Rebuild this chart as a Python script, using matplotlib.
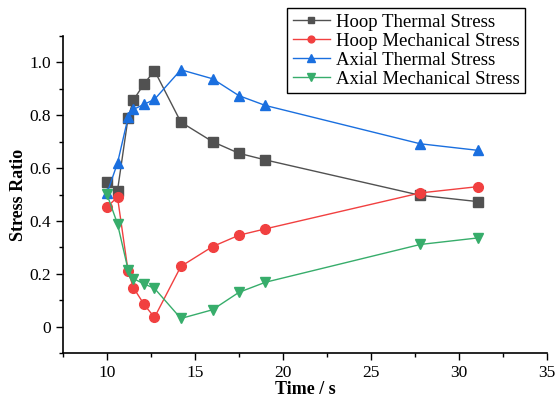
import matplotlib
matplotlib.use("Agg")
import matplotlib.pyplot as plt
from matplotlib.ticker import MultipleLocator, FuncFormatter

plt.rcParams['font.family'] = ['Liberation Serif', 'DejaVu Serif']

time_s = [10.0, 10.6, 11.2, 11.5, 12.1, 12.7, 14.2, 16.0, 17.5, 19.0, 27.8, 31.1]
hoop_thermal = [0.549, 0.515, 0.79, 0.857, 0.918, 0.969, 0.774, 0.700, 0.656, 0.631, 0.497, 0.473]
hoop_mech = [0.453, 0.490, 0.21, 0.148, 0.085, 0.035, 0.228, 0.303, 0.346, 0.370, 0.506, 0.530]
axial_thermal = [0.504, 0.619, 0.792, 0.822, 0.841, 0.860, 0.972, 0.938, 0.874, 0.837, 0.692, 0.667]
axial_mech = [0.501, 0.389, 0.216, 0.182, 0.162, 0.145, 0.031, 0.064, 0.130, 0.168, 0.311, 0.336]
labels = ["Hoop Thermal Stress", "Hoop Mechanical Stress", "Axial Thermal Stress", "Axial Mechanical Stress"]

fig = plt.figure(figsize=(5.57, 4.04), dpi=100)
ax = fig.add_axes([0.113, 0.126, 0.869, 0.785])

specs = [
    (hoop_thermal, '#515151', 's', 6.5),
    (hoop_mech, '#F14040', 'o', 7),
    (axial_thermal, '#1A6FDF', '^', 7.5),
    (axial_mech, '#37AD6B', 'v', 7.5),
]
for (vals, c, m, ms), lab in zip(specs, labels):
    ax.plot(time_s, vals, color=c, marker=m, markersize=ms, linewidth=1.0, label=lab)

ax.set_xlim(7.5, 35)
ax.set_ylim(-0.1, 1.1)
ax.xaxis.set_major_locator(MultipleLocator(5))
ax.xaxis.set_minor_locator(MultipleLocator(2.5))
ax.yaxis.set_major_locator(MultipleLocator(0.2))
ax.yaxis.set_minor_locator(MultipleLocator(0.1))
ax.yaxis.set_major_formatter(FuncFormatter(lambda v, p: '0' if abs(v) < 1e-9 else f'{v:.1f}'))

for s in ['top', 'right']:
    ax.spines[s].set_visible(False)
for s in ['left', 'bottom']:
    ax.spines[s].set_linewidth(1.2)
ax.tick_params(which='major', direction='out', length=5, width=1.0, labelsize=12.5)
ax.tick_params(which='minor', direction='out', length=3, width=1.0)

ax.set_xlabel('Time / s', fontsize=13, fontweight='bold', labelpad=0)
ax.set_ylabel('Stress Ratio', fontsize=13, fontweight='bold', labelpad=2)

leg = ax.legend(loc='upper left', bbox_to_anchor=(287/557, 1 - 8/404), bbox_transform=fig.transFigure,
                fontsize=13.5, frameon=True, fancybox=False, edgecolor='black', framealpha=1,
                handlelength=2.0, handletextpad=0.3, borderpad=0.3, labelspacing=0.1,
                markerscale=0.7, borderaxespad=0)
leg.get_frame().set_linewidth(1.0)

fig.savefig('out.png', dpi=100)
